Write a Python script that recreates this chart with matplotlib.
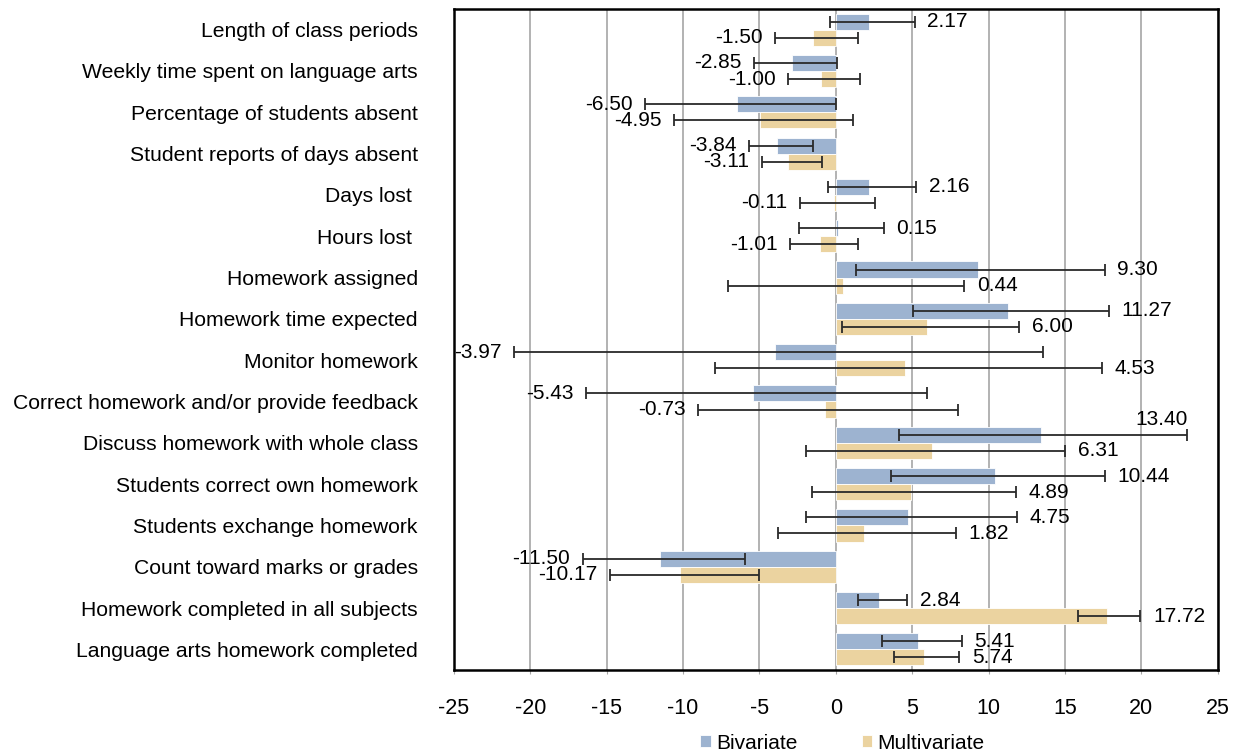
import matplotlib
matplotlib.use("Agg")
import matplotlib.pyplot as plt
import numpy as np

plt.rcParams['font.family'] = ['Liberation Sans', 'DejaVu Sans']
plt.rcParams['axes.unicode_minus'] = False

categories = [
    "Length of class periods",
    "Weekly time spent on language arts",
    "Percentage of students absent",
    "Student reports of days absent",
    "Days lost ",
    "Hours lost ",
    "Homework assigned",
    "Homework time expected",
    "Monitor homework",
    "Correct homework and/or provide feedback",
    "Discuss homework with whole class",
    "Students correct own homework",
    "Students exchange homework",
    "Count toward marks or grades",
    "Homework completed in all subjects",
    "Language arts homework completed",
]

bivariate = [2.17, -2.85, -6.50, -3.84, 2.16, 0.15, 9.30, 11.27, -3.97, -5.43,
             13.40, 10.44, 4.75, -11.50, 2.84, 5.41]
multivariate = [-1.50, -1.00, -4.95, -3.11, -0.11, -1.01, 0.44, 6.00, 4.53, -0.73,
                6.31, 4.89, 1.82, -10.17, 17.72, 5.74]

biv_lo = [-0.40, -5.36, -12.50, -5.69, -0.53, -2.42, 1.34, 5.02, -21.07, -16.33,
          4.15, 3.62, -1.97, -16.57, 1.45, 3.00]
biv_hi = [5.17, 0.10, 0.03, -1.51, 5.25, 3.15, 17.62, 17.90, 13.59, 5.95,
          23.01, 17.62, 11.89, -5.93, 4.67, 8.26]
multi_lo = [-3.99, -3.14, -10.58, -4.86, -2.36, -3.01, -7.08, 0.38, -7.89, -9.04,
            -1.97, -1.57, -3.77, -14.80, 15.83, 3.80]
multi_hi = [1.43, 1.58, 1.12, -0.88, 2.56, 1.43, 8.41, 12.02, 17.40, 8.02,
            15.01, 11.78, 7.85, -5.06, 19.94, 8.09]

series_names = ["Bivariate", "Multivariate"]
colors = ["#9db3d0", "#ebd3a0"]

fig = plt.figure(figsize=(12.37, 7.52), dpi=100)
ax = fig.add_axes([0.367, 0.109, 0.6174, 0.879])

y = np.arange(len(categories))
h = 0.39
XMIN, XMAX = -25, 25

handles = []
for vals, lo, hi, off, col, name in [
    (bivariate, biv_lo, biv_hi, -h / 2, colors[0], series_names[0]),
    (multivariate, multi_lo, multi_hi, h / 2, colors[1], series_names[1]),
]:
    vals = np.array(vals)
    lo = np.array(lo)
    hi = np.array(hi)
    yy = y + off
    b = ax.barh(yy, vals, height=h, color=col, edgecolor='white', linewidth=0.6,
                label=name, zorder=2)
    handles.append(b)
    ax.errorbar(vals, yy, xerr=[vals - lo, hi - vals], fmt='none',
                ecolor='#2a2a2a', elinewidth=1.3, capsize=4, capthick=1.3, zorder=3)
    for v, l, u, yv in zip(vals, lo, hi, yy):
        txt = f"{v:.2f}"
        if v >= 0:
            if u + 4.2 > XMAX:
                ax.annotate(txt, (u, yv), xytext=(0, 4), textcoords='offset points',
                            ha='right', va='bottom', fontsize=15, zorder=4)
            else:
                ax.annotate(txt, (u, yv), xytext=(9, 0), textcoords='offset points',
                            ha='left', va='center', fontsize=15, zorder=4)
        else:
            ax.annotate(txt, (l, yv), xytext=(-9, 0), textcoords='offset points',
                        ha='right', va='center', fontsize=15, zorder=4,
                        annotation_clip=False)

ax.set_xlim(XMIN, XMAX)
ax.set_ylim(len(categories) - 0.5, -0.5)
ax.set_xticks(np.arange(-25, 26, 5))
ax.set_yticks(y)
ax.set_yticklabels(categories, fontsize=15.2)
ax.tick_params(axis='y', length=0, pad=26)
ax.tick_params(axis='x', length=3, color='#a6a6a6', pad=17, labelsize=15.5)
ax.xaxis.grid(True, color='#a6a6a6', linewidth=1.2, zorder=0)
ax.set_axisbelow(True)
for s in ax.spines.values():
    s.set_linewidth(1.8)
    s.set_color('black')
    s.set_zorder(5)

fig.legend(handles=handles, labels=series_names, loc='lower center',
           bbox_to_anchor=(0.681, -0.026), ncol=2, frameon=False, fontsize=15,
           handlelength=0.5, handleheight=0.5, handletextpad=0.25,
           columnspacing=3.1)

fig.savefig("out.png", dpi=100)
